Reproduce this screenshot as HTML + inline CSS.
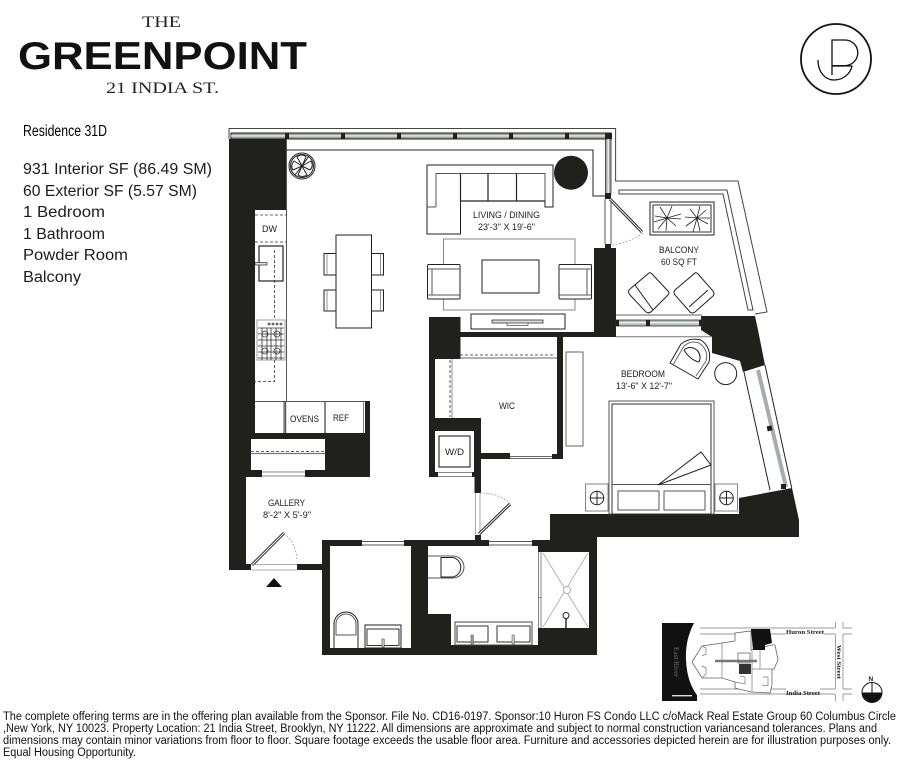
<!DOCTYPE html>
<html><head><meta charset="utf-8"><style>
html,body{margin:0;padding:0;background:#fff;width:900px;height:760px;overflow:hidden}
svg{display:block}
text{font-family:"Liberation Sans",sans-serif;fill:#1c1c1a}
.l{font-size:9.5px}
.s{font-size:15.5px}
.f{font-size:11.5px;fill:#111}
.ser{font-family:"Liberation Serif",serif;fill:#222}
.k{fill:#20201c;stroke:none}
.t{fill:none;stroke:#222;stroke-width:1}
.m{fill:none;stroke:#222;stroke-width:1.4}
.g{fill:none;stroke:#777;stroke-width:1}
.w{fill:#fff;stroke:#222;stroke-width:1}
.d{fill:none;stroke:#333;stroke-width:.8;stroke-dasharray:3 2}
.da{fill:none;stroke:#999;stroke-width:.8;stroke-dasharray:2 1.5}
</style></head><body>
<svg width="900" height="760" viewBox="0 0 900 760" xmlns="http://www.w3.org/2000/svg">
<rect width="900" height="760" fill="#fff"/>

<!-- Header -->
<text class="ser" x="142" y="27" font-size="16" textLength="39" lengthAdjust="spacingAndGlyphs">THE</text>
<text x="18" y="69" font-size="39" font-weight="700" style="fill:#111" textLength="289" lengthAdjust="spacingAndGlyphs">GREENPOINT</text>
<text class="ser" x="106" y="93" font-size="15.5" textLength="113" lengthAdjust="spacingAndGlyphs">21 INDIA ST.</text>

<!-- Logo -->
<circle cx="836" cy="59" r="35" fill="none" stroke="#111" stroke-width="1.8"/>
<path d="M832 75V40H845A12.8 12.8 0 0 1 845 65.6H832M832 66H852C850 75 842 80 834 80C825 80 818 72 818 60" fill="none" stroke="#111" stroke-width="1.3"/>

<!-- Left text -->
<text class="s" x="23" y="136" textLength="84" lengthAdjust="spacingAndGlyphs" style="fill:#000">Residence 31D</text>
<text class="s" x="23" y="174" textLength="189" lengthAdjust="spacingAndGlyphs">931 Interior SF (86.49 SM)</text>
<text class="s" x="23" y="196" textLength="174" lengthAdjust="spacingAndGlyphs">60 Exterior SF (5.57 SM)</text>
<text class="s" x="23" y="217" textLength="82" lengthAdjust="spacingAndGlyphs">1 Bedroom</text>
<text class="s" x="23" y="239" textLength="82" lengthAdjust="spacingAndGlyphs">1 Bathroom</text>
<text class="s" x="23" y="260" textLength="105" lengthAdjust="spacingAndGlyphs">Powder Room</text>
<text class="s" x="23" y="282" textLength="58" lengthAdjust="spacingAndGlyphs">Balcony</text>

<!-- Outer terrace / envelope lines -->
<path d="M229 139V128.5H615.6V181H738L767 312L755 314" class="g" stroke-width="1.2" style="stroke:#444"/>
<path d="M619 190H727L753 310H748L723 194H619Z" class="g" style="stroke:#444"/>

<!-- Top window -->
<rect x="231" y="133" width="380" height="6" fill="#9aa39c" stroke="#222" stroke-width="1"/>
<rect x="231" y="135.2" width="380" height="1.4" fill="#e8ece8"/>
<g class="k">
<rect x="285" y="133" width="4" height="6"/><rect x="341" y="133" width="4" height="6"/><rect x="397" y="133" width="4" height="6"/><rect x="453" y="133" width="4" height="6"/><rect x="509" y="133" width="4" height="6"/><rect x="565" y="133" width="4" height="6"/><rect x="605" y="133" width="7" height="6"/>
</g>
<rect x="605.5" y="139" width="5.5" height="55" fill="#a3aaa4" stroke="#333" stroke-width=".8"/>
<rect x="607.5" y="139" width="1.4" height="55" fill="#eef0ee"/>
<path d="M287 150H593V196H605" class="t"/>
<rect x="605" y="193" width="6" height="6" class="k"/>
<path d="M605 199V244M611 199V244" fill="none" stroke="#555" stroke-width="1"/>

<!-- Walls -->
<path class="k" d="M229 139H287V210H255V433H365V401H370V477H305V470H325V439H251V470H262V477H246V564H251V570H229Z"/>
<rect x="297" y="564" width="26" height="6" class="k"/>
<path class="k" d="M322 540H550V514H739V498L792 488L799 520V537H597V655H322Z"/>
<path fill="#fff" d="M330 546H411V648H330Z"/>
<path fill="#fff" d="M428 546H538V645H451V614H428Z"/>
<path fill="#fff" d="M538 552H589V628H538Z"/>
<rect x="362" y="540" width="42" height="6" fill="#fff"/>
<path d="M362 541.5H404M362 545H404" stroke="#222" stroke-width=".8"/>
<rect x="489" y="540" width="43" height="6" fill="#fff"/>
<path d="M489 541.5H532M489 545H532" stroke="#222" stroke-width=".8"/>
<rect x="475" y="535" width="6" height="6" class="k"/>

<path class="k" d="M429 317H460.5V332H594V248H605V244H611V248H616V337H563V459H552V454H557V337H460.5V359H435V418H481V453H510V459H481V493H474.5V477H429Z"/>
<rect x="435" y="431" width="39" height="41" fill="#fff"/>
<rect x="438" y="472" width="34" height="5" fill="#fff"/>
<path d="M438 472.5H472M438 476.5H472" stroke="#888" stroke-width="1"/>
<path d="M510 456.5H552M510 458.5H552" stroke="#333" stroke-width=".7"/>
<path class="k" d="M701 316H755L758 330L765 365L743 372L740 361L712 353V337L701 330Z"/>

<!-- Balcony window -->
<path d="M616 315H702" stroke="#666" stroke-width="1"/>
<rect x="616" y="320" width="86" height="6" fill="#b5bbb6" stroke="#333" stroke-width=".8"/>
<rect x="616" y="322" width="86" height="1.4" fill="#eef0ee"/>
<rect x="616" y="320" width="3" height="6" class="k"/><rect x="646" y="320" width="4" height="6" class="k"/><rect x="699" y="320" width="3" height="6" class="k"/>
<path d="M616 336.7H711" stroke="#777" stroke-width="1"/>

<!-- Bedroom window -->
<path d="M744 372L770 490M765 365L791.7 488" class="t"/>
<path d="M758 370L786 487" stroke="#a6aea8" stroke-width="4" fill="none"/>
<rect x="767" y="426" width="5" height="5" class="k" transform="rotate(-13 769 428)"/>
<rect x="781" y="484" width="5" height="5" class="k"/>

<!-- Balcony door -->
<path d="M610 199L642 232" stroke="#222" stroke-width="3"/><path d="M610 199L642 232" stroke="#fff" stroke-width="1"/>
<path d="M643 233Q630 243 611 245" class="da"/>

<!-- Plant -->
<circle cx="302" cy="166" r="13" class="w"/><circle cx="302" cy="166" r="11.5" class="t"/>
<g class="t"><path d="M302 166L297 157Q302 153 306 157ZM302 166L311 161Q314 166 310 170ZM302 166L307 175Q302 178 298 175ZM302 166L293 170Q290 166 294 161Z"/><path d="M302 166L309 156M302 166L295 175"/></g>

<!-- Round table -->
<circle cx="571" cy="172.7" r="17" class="k"/>

<!-- Sofa -->
<path d="M427 165H553V207H545V201H460.5V234H427Z" class="w" stroke-width="1.2"/>
<path d="M436 207V173.5H545V201M427 207H436" fill="none" stroke="#555" stroke-width="1"/>
<path d="M460.5 173.5V201H545M488 173.5V201M516.5 173.5V201" fill="none" stroke="#222" stroke-width="1.2"/>

<!-- Rug -->
<rect x="443.5" y="239" width="131.5" height="71" fill="none" stroke="#888" stroke-width="1"/>
<rect x="482" y="260" width="57" height="33" class="w"/>
<!-- Armchairs -->
<g>
<rect x="427.5" y="264.5" width="32.5" height="34.5" rx="1" class="w"/>
<path d="M427.5 269H460M427.5 295H460M432 269V295" fill="none" stroke="#555" stroke-width="1"/>
<rect x="559" y="264.5" width="32.5" height="34.5" rx="1" class="w"/>
<path d="M559 269H591.5M559 295H591.5M587 269V295" fill="none" stroke="#555" stroke-width="1"/>
</g>
<!-- TV console -->
<rect x="471" y="314" width="94" height="15" class="w"/>
<rect x="492" y="320" width="51" height="3" fill="#ddd" stroke="#333" stroke-width=".8"/>
<rect x="507" y="323" width="21" height="2.5" fill="#eee" stroke="#555" stroke-width=".7"/>

<!-- Dining -->
<rect x="324" y="253.5" width="12" height="21.5" class="w"/><rect x="324" y="290" width="12" height="21" class="w"/>
<rect x="371.5" y="253.5" width="12" height="21.5" class="w"/><rect x="371.5" y="290" width="12" height="21" class="w"/>
<path d="M327 253.5V275M327 290V311M380.5 253.5V275M380.5 290V311" stroke="#777" stroke-width=".8"/>
<rect x="336" y="235" width="35.5" height="93" class="w" stroke-width="1.1"/>

<!-- Kitchen -->
<path d="M286.5 139V401" stroke="#555" stroke-width="1"/>
<path d="M255 215H287M255 242H287" class="d"/>
<rect x="259" y="246" width="24" height="35" fill="#fff" stroke="#222" stroke-width="1.2"/>
<rect x="255" y="262.5" width="12" height="2.5" fill="#ddd" stroke="#333" stroke-width=".7"/>
<path d="M274.5 250V381.5H255" class="d"/>
<rect x="257" y="320" width="28" height="40" fill="#fff" stroke="#888" stroke-width=".8"/>
<g fill="none" stroke="#333" stroke-width=".8">
<path d="M258 328H284M258 334H284M258 340H284M258 346H284M258 352H284M258 358H284M262 328V360M267 328V360M271 328V360M276 328V360M281 328V360"/>
<circle cx="265" cy="334" r="3"/><circle cx="277" cy="334" r="3"/><circle cx="265" cy="351" r="3"/><circle cx="277" cy="351" r="3"/>
<circle cx="269" cy="324" r="1"/><circle cx="273" cy="324" r="1"/><circle cx="277" cy="324" r="1"/><circle cx="281" cy="324" r="1"/>
</g>
<rect x="255" y="401" width="110" height="32" fill="#fff"/>
<path d="M255 401.5H365" stroke="#555" stroke-width="1"/>
<path d="M285.5 401V433M325 401V433" stroke="#555" stroke-width="1.4"/>
<path d="M284 401V433" stroke="#222" stroke-width=".8"/>
<path d="M363.5 401V433" stroke="#666" stroke-width=".8"/>
<!-- Closet -->
<path d="M251 451.6H325" class="d"/>
<path d="M251 453.5H325" stroke="#777" stroke-width="1.2"/>
<!-- Gallery window -->
<path d="M262 472H305M262 476H305" stroke="#888" stroke-width="1"/>

<!-- Entry door -->
<path d="M252 565L284 533" stroke="#222" stroke-width="3"/><path d="M252 565L284 533" stroke="#fff" stroke-width="1"/>
<path d="M284 533Q297 545 297 561" class="da"/>
<path d="M251 564.5H297M251 570H297" stroke="#999" stroke-width=".8"/>
<path d="M266 587H282L274 578Z" fill="#111"/>

<!-- WIC -->
<path d="M460 355H555" class="d"/>
<path d="M460 358H557" stroke="#666" stroke-width=".9"/>
<path d="M450 360V417" class="d"/>
<path d="M452 359V418" stroke="#777" stroke-width=".8"/>
<rect x="439" y="436" width="31" height="31" fill="#fff" stroke="#222" stroke-width="1.1"/>

<!-- WIC door -->
<path d="M475.5 493V534M480 493V534" stroke="#aaa" stroke-width="1"/>
<path d="M479 534L510 504" stroke="#222" stroke-width="3"/><path d="M479 534L510 504" stroke="#fff" stroke-width="1"/>
<path d="M480 493Q498 493 510 503" class="da"/>

<!-- Planter -->
<rect x="650" y="202" width="64" height="33" class="w"/>
<rect x="653" y="205" width="58" height="27" class="t" style="stroke:#333"/>
<g stroke="#222" stroke-width=".8" fill="none">
<path d="M667 218L655 216M667 218L672 206M667 218L681 214M667 218L681 219M667 218L676 226M667 218L666 231M667 218L658 229M667 218L660 207M667 218L654 222"/>
<path d="M697 218L685 217M697 218L700 206M697 218L710 218M697 218L708 224M697 218L700 231M697 218L693 232M697 218L686 226M697 218L690 209M697 218L706 210"/>
</g>
<!-- Balcony chairs -->
<path d="M649 273Q650 272 652 274L668 291Q670 293 668 295L652 311Q649 314 646 312L630 295Q627 291 630 289Z" class="w" stroke-width="1.2"/>
<path d="M635 285L653 310" class="t"/>
<path d="M695 273Q696 272 698 274L713 291Q715 294 713 296L695 312Q692 314 690 312L675 295Q673 292 675 290Z" class="w" stroke-width="1.2"/>
<path d="M708 290L689 307" class="t"/>

<!-- Bedroom -->
<rect x="566" y="352" width="17" height="94" fill="#fff" stroke="#666" stroke-width="1"/>
<path d="M670 363L681 344Q690 337 701 340Q712 348 709 362L698 379Z" class="w" stroke-width="1.2"/>
<path d="M673 365L684 346Q691 340 699 343Q709 350 706 361L696 376" fill="none" stroke="#666" stroke-width="1"/>
<path d="M684 350Q690 345 697 350Q702 356 699 362Q690 360 684 350" class="t"/>
<circle cx="725.7" cy="373.6" r="11" class="w"/>
<rect x="609" y="401" width="105" height="113" fill="#fff" stroke="#555" stroke-width="1"/>
<rect x="612" y="404" width="99" height="110" fill="#fff" stroke="#333" stroke-width="1"/>
<path d="M612 484.5H711" stroke="#555" stroke-width="1"/>
<path d="M658 485L701 452L711 465Z" class="w"/>
<rect x="618" y="491" width="41" height="19" fill="#fff" stroke="#555" stroke-width="1"/>
<rect x="664" y="491" width="41" height="19" fill="#fff" stroke="#555" stroke-width="1"/>
<rect x="585.5" y="484" width="22.5" height="27" fill="#fff" stroke="#777" stroke-width=".9"/>
<rect x="715" y="484" width="22.5" height="27" fill="#fff" stroke="#777" stroke-width=".9"/>
<g fill="none" stroke="#222" stroke-width="1"><circle cx="597" cy="498" r="6.8"/><path d="M590 498H604M597 491V505"/><circle cx="726.5" cy="498" r="6.8"/><path d="M720 498H733M726.5 491V505"/></g>

<!-- Powder room fixtures -->
<path d="M334 648V624A12 12 0 0 1 358 624V648" class="t"/>
<path d="M336 635V624A10 10 0 0 1 356 624V635Z" class="m" style="stroke-width:1;stroke:#555"/>
<rect x="365" y="625" width="36" height="23" fill="#fff" stroke="#222" stroke-width="1"/>
<rect x="367" y="629" width="32" height="16.5" fill="#fff" stroke="#333" stroke-width="1"/>
<rect x="382" y="639" width="2.2" height="8" fill="#ccc" stroke="#444" stroke-width=".6"/>

<!-- Master bath fixtures -->
<path d="M428 556H453A11 11 0 0 1 453 578H428" fill="none" stroke="#555" stroke-width="1"/>
<path d="M441 557.5H453A10 10 0 0 1 453 577H441Z" class="t"/>
<rect x="455" y="622" width="77" height="23" fill="#fff" stroke="#444" stroke-width="1"/>
<rect x="457" y="626" width="31" height="16" fill="#fff" stroke="#333" stroke-width="1"/>
<rect x="497" y="626" width="33" height="16" fill="#fff" stroke="#333" stroke-width="1"/>
<rect x="471" y="635" width="2.5" height="9" fill="#999" stroke="#555" stroke-width=".5"/>
<rect x="512" y="635" width="2.5" height="9" fill="#ccc" stroke="#555" stroke-width=".5"/>
<!-- Shower -->
<path d="M538.5 552V628M541 552V628M538 597.5H541" stroke="#666" stroke-width=".8"/>
<path d="M543 553L588 627M588 553L543 627" stroke="#aaa" stroke-width=".8"/>
<circle cx="567" cy="590" r="3.5" fill="#fff" stroke="#999" stroke-width=".8"/>
<circle cx="566" cy="615.5" r="3" fill="#fff" stroke="#222" stroke-width="1"/>
<path d="M566 618V628" stroke="#222" stroke-width="1.4"/>

<!-- Labels -->
<text class="l" x="473" y="218" textLength="67" lengthAdjust="spacingAndGlyphs">LIVING / DINING</text>
<text class="l" x="478" y="230" textLength="57" lengthAdjust="spacingAndGlyphs">23'-3" X 19'-6"</text>
<text class="l" x="659" y="253" textLength="40" lengthAdjust="spacingAndGlyphs">BALCONY</text>
<text class="l" x="661" y="265" textLength="36" lengthAdjust="spacingAndGlyphs">60 SQ FT</text>
<text class="l" x="621" y="377" textLength="44" lengthAdjust="spacingAndGlyphs">BEDROOM</text>
<text class="l" x="616" y="389" textLength="56" lengthAdjust="spacingAndGlyphs">13'-6" X 12'-7"</text>
<text class="l" x="499" y="409" textLength="16" lengthAdjust="spacingAndGlyphs">WIC</text>
<text class="l" x="445" y="455" textLength="19" lengthAdjust="spacingAndGlyphs">W/D</text>
<text class="l" x="268" y="506" textLength="37" lengthAdjust="spacingAndGlyphs">GALLERY</text>
<text class="l" x="263" y="518" textLength="48" lengthAdjust="spacingAndGlyphs">8'-2" X 5'-9"</text>
<text class="l" x="290" y="422" textLength="29" lengthAdjust="spacingAndGlyphs">OVENS</text>
<text class="l" x="333" y="421" textLength="16" lengthAdjust="spacingAndGlyphs">REF</text>
<text class="l" x="262" y="232" textLength="15" lengthAdjust="spacingAndGlyphs">DW</text>

<!-- Key map -->
<path class="k" style="fill:#111" d="M662 623H694Q685 640 686 660Q687 682 697 695V701H662Z"/>
<rect x="672" y="695" width="20" height="1.4" fill="#ddd"/>
<text transform="translate(674 647) rotate(90)" font-size="7.5" style="fill:#555;font-family:'Liberation Serif',serif" font-weight="700" textLength="30" lengthAdjust="spacingAndGlyphs">East River</text>
<g fill="none" stroke="#999" stroke-width=".9">
<path d="M700 628H835M700 634H786M824 634H835M700 689H786M820 689H835M700 694H835M835.5 622V628M835.5 634V689M835.5 694V701M843 622V628M843 634V689M843 694V701M843 628H852M843 634H852M843 689H852M843 694H852"/>
</g>
<path d="M692 662L702 646L722 643L735 641V633L751 631V650L772 645H775L778 660L774 669H772V685L770 693L751 692L735 688V682L722 678H702Z" fill="#fff" stroke="#666" stroke-width=".8"/>
<path d="M751 629H770L772 643L765 645V650H753Z" fill="#111"/>
<path d="M715 661H757" stroke="#777" stroke-width="2.5"/>
<rect x="738" y="653" width="12" height="10" fill="none" stroke="#666" stroke-width=".8"/>
<rect x="739" y="664" width="12" height="10" fill="#333"/>
<path d="M752 650V692M752 669H774M722 643V678M760 669V650" stroke="#777" stroke-width=".7"/>
<path d="M702 646L706 648V654L702 656M702 678L706 674V668L702 666M735 682L745 684V677L740 676M762 685L768 686V677H763" fill="none" stroke="#777" stroke-width=".7"/>
<text x="786" y="634" font-size="6.5" font-weight="700" style="font-family:'Liberation Serif',serif" textLength="38" lengthAdjust="spacingAndGlyphs">Huron Street</text>
<text x="786" y="695" font-size="6.5" font-weight="700" style="font-family:'Liberation Serif',serif" textLength="34" lengthAdjust="spacingAndGlyphs">India Street</text>
<text transform="translate(837 645) rotate(90)" font-size="6.5" font-weight="700" style="font-family:'Liberation Serif',serif" textLength="34" lengthAdjust="spacingAndGlyphs">West Street</text>
<text x="868.5" y="681" font-size="6.5" font-weight="700">N</text>
<circle cx="872" cy="692.5" r="10" fill="#fff" stroke="#111" stroke-width="1"/>
<path d="M862 692.5A10 10 0 0 0 882 692.5Z" fill="#111"/>
<path d="M872 682.5V692.5" stroke="#111" stroke-width="1"/>

<!-- Footer -->
<text class="f" x="3" y="720" textLength="893" lengthAdjust="spacingAndGlyphs">The complete offering terms are in the offering plan available from the Sponsor. File No. CD16-0197. Sponsor:10 Huron FS Condo LLC c/oMack Real Estate Group 60 Columbus Circle</text>
<text class="f" x="3" y="732" textLength="874" lengthAdjust="spacingAndGlyphs">,New York, NY 10023. Property Location: 21 India Street, Brooklyn, NY 11222. All dimensions are approximate and subject to normal construction variancesand tolerances. Plans and</text>
<text class="f" x="3" y="744" textLength="888" lengthAdjust="spacingAndGlyphs">dimensions may contain minor variations from floor to floor. Square footage exceeds the usable floor area.  Furniture and accessories depicted herein are for illustration purposes only.</text>
<text class="f" x="3" y="756" textLength="133" lengthAdjust="spacingAndGlyphs">Equal Housing Opportunity.</text>
</svg>
</body></html>
